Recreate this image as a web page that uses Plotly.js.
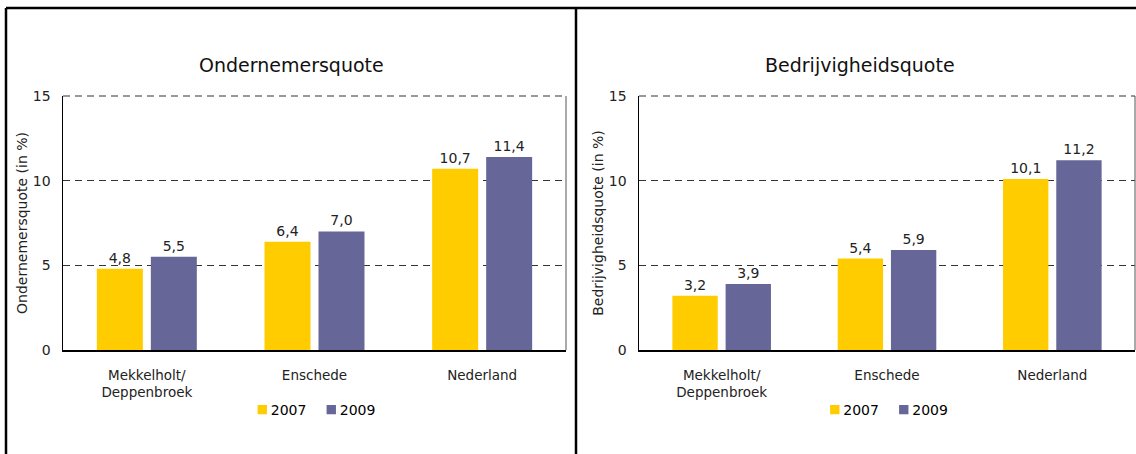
<!DOCTYPE html>
<html>
<head>
<meta charset="utf-8">
<script src="https://cdn.plot.ly/plotly-3.0.1.min.js"></script>
<style>
html,body{margin:0;padding:0;background:#fff;}
#chart{width:1136px;height:454px;}
</style>
</head>
<body>
<div id="chart"></div>
<script>
const categories = ['Mekkelholt/<br>Deppenbroek', 'Enschede', 'Nederland'];
const years = ['2007', '2009'];
const ondernemers2007 = [4.8, 6.4, 10.7];
const ondernemers2009 = [5.5, 7.0, 11.4];
const bedrijvigheid2007 = [3.2, 5.4, 10.1];
const bedrijvigheid2009 = [3.9, 5.9, 11.2];
const yTicks = [0, 5, 10, 15];
const titles = ['Ondernemersquote', 'Bedrijvigheidsquote'];
const yTitles = ['Ondernemersquote (in %)', 'Bedrijvigheidsquote (in %)'];

const colors = ['#FFCC00', '#666699'];
const FAM = 'DejaVu Sans, Verdana, sans-serif';
const font = {family: FAM, size: 14, color: '#222'};

function bar(y, name, color, xa, ya, leg) {
  return {
    type: 'bar', x: categories, y: y, name: name,
    marker: {color: color, line: {width: 0}},
    xaxis: xa, yaxis: ya, legend: leg, showlegend: true,
    texttemplate: '%{y:.1f}', textposition: 'outside', cliponaxis: false,
    textfont: {family: FAM, size: 14, color: '#222'},
    hoverinfo: 'skip'
  };
}

const data = [
  bar(ondernemers2007, years[0], colors[0], 'x', 'y', 'legend'),
  bar(ondernemers2009, years[1], colors[1], 'x', 'y', 'legend'),
  bar(bedrijvigheid2007, years[0], colors[0], 'x2', 'y2', 'legend2'),
  bar(bedrijvigheid2009, years[1], colors[1], 'x2', 'y2', 'legend2')
];

const W = 1136, H = 454;
const px = v => v / W, py = v => (H - v) / H;
const dom1 = [px(63), px(566)], dom2 = [px(639), px(1135)];

function yaxis(anchor, title) {
  return {
    domain: [py(350), py(96)], anchor: anchor, range: [0, 15],
    tickvals: yTicks, ticks: '', showline: true, linecolor: '#000', linewidth: 1.5,
    showgrid: true, gridcolor: '#333', gridwidth: 1, griddash: '7px,5px',
    zeroline: false, tickfont: {family: FAM, size: 14, color: '#222'}, ticklabelstandoff: 8,
    title: {text: title, font: {family: FAM, size: 14, color: '#222'}, standoff: 2}, fixedrange: true
  };
}
function xaxis(domain, anchor) {
  return {
    domain: domain, anchor: anchor, showline: true, linecolor: '#000', linewidth: 1.5,
    ticks: '', tickfont: {family: FAM, size: 13.5, color: '#222'}, ticklabelstandoff: 12,
    showgrid: false, zeroline: false, fixedrange: true, tickangle: 0
  };
}

const legendBase = {
  orientation: 'h', xanchor: 'center', yanchor: 'middle', y: py(410),
  font: {family: FAM, size: 14, color: '#000'}, itemwidth: 30,
  tracegroupgap: 0, bgcolor: 'rgba(0,0,0,0)', itemclick: false, itemdoubleclick: false
};

const layout = {
  width: W, height: H, margin: {l: 0, r: 0, t: 0, b: 0},
  paper_bgcolor: '#fff', plot_bgcolor: '#fff',
  font: font, separators: ',.',
  barmode: 'group', bargap: 0.356, bargroupgap: 0.148,
  xaxis: xaxis(dom1, 'y'),
  yaxis: yaxis('x', yTitles[0]),
  xaxis2: xaxis(dom2, 'y2'),
  yaxis2: yaxis('x2', yTitles[1]),
  legend: Object.assign({}, legendBase, {x: (dom1[0] + dom1[1]) / 2}),
  legend2: Object.assign({}, legendBase, {x: (dom2[0] + dom2[1]) / 2}),
  annotations: [
    {text: titles[0], xref: 'paper', yref: 'paper', x: px(291), y: py(65), showarrow: false,
     xanchor: 'center', yanchor: 'middle', font: {family: FAM, size: 19, color: '#111'}},
    {text: titles[1], xref: 'paper', yref: 'paper', x: px(860), y: py(65), showarrow: false,
     xanchor: 'center', yanchor: 'middle', font: {family: FAM, size: 19, color: '#111'}}
  ],
  shapes: [
    // outer frame
    {type: 'line', xref: 'paper', yref: 'paper', x0: px(6), x1: 1, y0: py(8), y1: py(8), line: {color: '#000', width: 2.5}},
    {type: 'line', xref: 'paper', yref: 'paper', x0: px(6), x1: px(6), y0: py(8), y1: -0.05, line: {color: '#000', width: 2.5}},
    {type: 'line', xref: 'paper', yref: 'paper', x0: px(576), x1: px(576), y0: py(8), y1: -0.05, line: {color: '#000', width: 2.5}},
    // right edges and dashed top edges of plot frames
    {type: 'line', xref: 'x domain', yref: 'y domain', x0: 1, x1: 1, y0: 0, y1: 1, line: {color: '#555', width: 1}},
    {type: 'line', xref: 'x2 domain', yref: 'y2 domain', x0: 1, x1: 1, y0: 0, y1: 1, line: {color: '#555', width: 1}},
    {type: 'line', xref: 'x domain', yref: 'y domain', x0: 0, x1: 1, y0: 1, y1: 1, line: {color: '#333', width: 1, dash: '7px,5px'}},
    {type: 'line', xref: 'x2 domain', yref: 'y2 domain', x0: 0, x1: 1, y0: 1, y1: 1, line: {color: '#333', width: 1, dash: '7px,5px'}}
  ]
};

const TR_RE = /translate\(\s*([-\d.e]+)[ ,]+([-\d.e]+)\s*\)/;

function compactLegends(gd) {
  const targets = [(dom1[0] + dom1[1]) / 2 * W + 2, (dom2[0] + dom2[1]) / 2 * W + 2];
  // legend entry texts: class is 'legendtext' for legend, 'legend2text' for legend2
  const texts = Array.from(gd.querySelectorAll('g.traces > text'));
  const groups = [[], []];
  texts.forEach(txt => {
    const r = txt.getBoundingClientRect();
    groups[r.left > W / 2 ? 1 : 0].push(txt);
  });
  groups.forEach((txts, i) => {
    if (!txts.length) return;
    txts.sort((a, b) => a.textContent.localeCompare(b.textContent));
    let xcur = 0;
    const entries = txts.map(t => t.parentNode);
    entries.forEach((en, k) => {
      txts[k].setAttribute('x', 32);
      const p = en.querySelector('.legendpoints path') || en.querySelector('path');
      if (p) p.setAttribute('transform', 'translate(23.5,0) scale(0.78)');
      const m = TR_RE.exec(en.getAttribute('transform') || '');
      const y = m ? m[2] : 0;
      en.setAttribute('transform', 'translate(' + xcur + ',' + y + ')');
      xcur += 69;
    });
    let lg = entries[0];
    while (lg.parentNode && !(lg.parentNode.classList && lg.parentNode.classList.contains('infolayer'))) lg = lg.parentNode;
    const p0 = entries[0].querySelector('.legendpoints path') || entries[0].querySelector('path');
    const left = p0 ? p0.getBoundingClientRect().left : txts[0].getBoundingClientRect().left;
    const right = txts[txts.length - 1].getBoundingClientRect().right;
    const delta = targets[i] - (left + right) / 2;
    const m = TR_RE.exec(lg.getAttribute('transform') || '');
    if (m && Math.abs(delta) > 0.3) lg.setAttribute('transform', 'translate(' + (parseFloat(m[1]) + delta) + ',' + m[2] + ')');
  });
}

Plotly.newPlot('chart', data, layout, {displayModeBar: false, staticPlot: true}).then(gd => {
  compactLegends(gd);
  [50, 200, 600].forEach(t => setTimeout(() => compactLegends(gd), t));
});
</script>
</body>
</html>
